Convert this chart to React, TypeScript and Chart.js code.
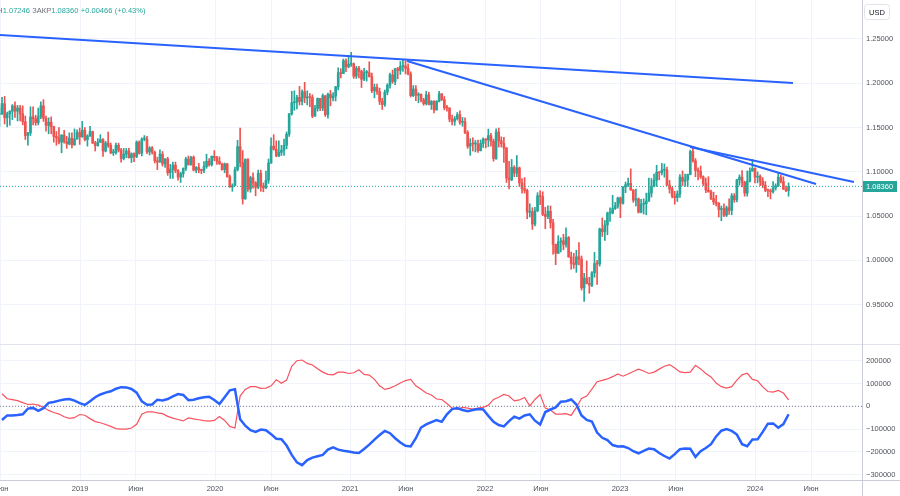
import React, { useEffect, useRef } from "react";
import { Chart, registerables } from "chart.js";

Chart.register(...registerables);

const FONT_FAMILY = "'Liberation Sans', Arial, sans-serif";
const UP = "#26a69a";
const DOWN = "#ef5350";
const BLUE = "#2962ff";
const RED_LINE = "#f7525f";
const GRID = "#f0f3fa";
const TEXT = "#50535e";
const AXIS_FONT = 7.5;

// Weekly EUR/USD candles: first week and its open, then [high, low, close] per week
const FIRST_WEEK = "2018-05-28";
const FIRST_OPEN = 1.165;

const w2018 = [
  [1.1720, 1.1510, 1.1660], [1.1840, 1.1645, 1.1770], [1.1852, 1.1541, 1.1610], [1.1675, 1.1508, 1.1655],
  [1.1690, 1.1526, 1.1685], [1.1760, 1.1590, 1.1745], [1.1790, 1.1615, 1.1685], [1.1750, 1.1575, 1.1720],
  [1.1750, 1.1575, 1.1655], [1.1745, 1.1530, 1.1565], [1.1630, 1.1365, 1.1410], [1.1445, 1.1300, 1.1440],
  [1.1735, 1.1410, 1.1620], [1.1735, 1.1530, 1.1600], [1.1640, 1.1525, 1.1555], [1.1720, 1.1530, 1.1625],
  [1.1790, 1.1600, 1.1745], [1.1815, 1.1570, 1.1605], [1.1630, 1.1460, 1.1525], [1.1610, 1.1430, 1.1560],
  [1.1620, 1.1430, 1.1510], [1.1515, 1.1335, 1.1400], [1.1455, 1.1300, 1.1385], [1.1500, 1.1315, 1.1335],
  [1.1420, 1.1215, 1.1415], [1.1470, 1.1325, 1.1340], [1.1400, 1.1265, 1.1315], [1.1440, 1.1305, 1.1380],
  [1.1440, 1.1270, 1.1305], [1.1485, 1.1300, 1.1370], [1.1475, 1.1370, 1.1445], [1.1495, 1.1310, 1.1395],
];
const w2019 = [
  [1.1570, 1.1390, 1.1470], [1.1500, 1.1350, 1.1365], [1.1420, 1.1290, 1.1405], [1.1515, 1.1400, 1.1455],
  [1.1460, 1.1320, 1.1325], [1.1345, 1.1235, 1.1295], [1.1375, 1.1290, 1.1335], [1.1420, 1.1330, 1.1365],
  [1.1375, 1.1175, 1.1235], [1.1345, 1.1225, 1.1325], [1.1450, 1.1275, 1.1300], [1.1325, 1.1205, 1.1215],
  [1.1255, 1.1185, 1.1215], [1.1325, 1.1200, 1.1300], [1.1325, 1.1225, 1.1245], [1.1265, 1.1110, 1.1150],
  [1.1265, 1.1135, 1.1200], [1.1265, 1.1160, 1.1235], [1.1265, 1.1155, 1.1160], [1.1215, 1.1105, 1.1205],
  [1.1215, 1.1115, 1.1170], [1.1350, 1.1160, 1.1335], [1.1350, 1.1200, 1.1210], [1.1385, 1.1180, 1.1370],
  [1.1410, 1.1350, 1.1370], [1.1400, 1.1205, 1.1225], [1.1285, 1.1190, 1.1270], [1.1285, 1.1200, 1.1220],
  [1.1235, 1.1100, 1.1125], [1.1165, 1.1025, 1.1110], [1.1250, 1.1110, 1.1200], [1.1230, 1.1065, 1.1090],
  [1.1150, 1.1050, 1.1145], [1.1165, 1.0960, 1.0990], [1.1085, 1.0925, 1.1030], [1.1110, 1.0925, 1.1075],
  [1.1110, 1.0990, 1.1015], [1.1025, 1.0905, 1.0940], [1.0995, 1.0880, 1.0980], [1.1045, 1.0940, 1.1040],
  [1.1165, 1.1015, 1.1145], [1.1180, 1.1075, 1.1080], [1.1175, 1.1075, 1.1165], [1.1180, 1.1010, 1.1020],
  [1.1060, 1.0990, 1.1050], [1.1095, 1.0990, 1.1020], [1.1030, 1.0980, 1.1015], [1.1115, 1.0990, 1.1060],
  [1.1200, 1.1040, 1.1120], [1.1150, 1.1065, 1.1080], [1.1180, 1.1065, 1.1175], [1.1240, 1.1125, 1.1160],
];
const w2020 = [
  [1.1175, 1.1085, 1.1120], [1.1170, 1.1085, 1.1090], [1.1100, 1.1020, 1.1025], [1.1100, 1.0990, 1.1090],
  [1.1095, 1.0940, 1.0945], [1.0965, 1.0825, 1.0830], [1.0865, 1.0780, 1.0845], [1.1055, 1.0845, 1.1025],
  [1.1355, 1.1010, 1.1285], [1.1495, 1.1055, 1.1105], [1.1240, 1.0636, 1.0695], [1.1147, 1.0690, 1.1140],
  [1.1150, 1.0780, 1.0805], [1.0950, 1.0770, 1.0935], [1.0990, 1.0815, 1.0875], [1.0890, 1.0730, 1.0825],
  [1.1020, 1.0810, 1.0985], [1.1020, 1.0780, 1.0840], [1.0875, 1.0775, 1.0820], [1.1010, 1.0810, 1.0905],
  [1.1145, 1.0870, 1.1100], [1.1385, 1.1095, 1.1290], [1.1420, 1.1245, 1.1255], [1.1350, 1.1170, 1.1180],
  [1.1350, 1.1170, 1.1220], [1.1300, 1.1185, 1.1245], [1.1370, 1.1185, 1.1300], [1.1450, 1.1260, 1.1425],
  [1.1660, 1.1400, 1.1655], [1.1910, 1.1640, 1.1780], [1.1915, 1.1695, 1.1785], [1.1865, 1.1710, 1.1840],
  [1.1965, 1.1755, 1.1795], [1.1925, 1.1755, 1.1905], [1.2011, 1.1780, 1.1835], [1.1915, 1.1755, 1.1845],
  [1.1885, 1.1735, 1.1840], [1.1870, 1.1612, 1.1630], [1.1750, 1.1625, 1.1715], [1.1835, 1.1685, 1.1830],
  [1.1830, 1.1690, 1.1720], [1.1880, 1.1690, 1.1860], [1.1860, 1.1625, 1.1645], [1.1890, 1.1605, 1.1875],
  [1.1920, 1.1745, 1.1835], [1.1895, 1.1800, 1.1855], [1.1965, 1.1800, 1.1960], [1.2175, 1.1925, 1.2120],
  [1.2165, 1.2060, 1.2110], [1.2275, 1.2110, 1.2255], [1.2275, 1.2130, 1.2185], [1.2310, 1.2175, 1.2215],
];
const w2021 = [
  [1.2349, 1.2190, 1.2220], [1.2230, 1.2055, 1.2080], [1.2190, 1.2055, 1.2170], [1.2190, 1.2060, 1.2135],
  [1.2150, 1.1952, 1.2045], [1.2170, 1.2030, 1.2120], [1.2145, 1.2025, 1.2120], [1.2243, 1.2070, 1.2075],
  [1.2115, 1.1895, 1.1915], [1.1990, 1.1835, 1.1955], [1.1990, 1.1875, 1.1905], [1.1945, 1.1760, 1.1795],
  [1.1830, 1.1704, 1.1760], [1.1925, 1.1740, 1.1900], [1.1995, 1.1870, 1.1980], [1.2115, 1.1945, 1.2095],
  [1.2150, 1.2000, 1.2020], [1.2170, 1.1985, 1.2165], [1.2180, 1.2050, 1.2145], [1.2245, 1.2100, 1.2190],
  [1.2265, 1.2135, 1.2195], [1.2255, 1.2105, 1.2170], [1.2220, 1.2095, 1.2105], [1.2130, 1.1845, 1.1860],
  [1.1975, 1.1850, 1.1935], [1.1975, 1.1805, 1.1865], [1.1895, 1.1780, 1.1875], [1.1880, 1.1790, 1.1810],
  [1.1830, 1.1752, 1.1770], [1.1910, 1.1755, 1.1870], [1.1900, 1.1755, 1.1760], [1.1805, 1.1705, 1.1795],
  [1.1805, 1.1664, 1.1700], [1.1805, 1.1695, 1.1795], [1.1910, 1.1790, 1.1880], [1.1885, 1.1805, 1.1815],
  [1.1850, 1.1700, 1.1725], [1.1750, 1.1685, 1.1720], [1.1725, 1.1565, 1.1595], [1.1640, 1.1530, 1.1570],
  [1.1625, 1.1525, 1.1600], [1.1670, 1.1585, 1.1645], [1.1690, 1.1535, 1.1560], [1.1615, 1.1515, 1.1565],
  [1.1610, 1.1430, 1.1445], [1.1465, 1.1265, 1.1290], [1.1375, 1.1186, 1.1320], [1.1385, 1.1235, 1.1315],
  [1.1355, 1.1225, 1.1315], [1.1360, 1.1220, 1.1240], [1.1360, 1.1235, 1.1320], [1.1385, 1.1275, 1.1370],
];
const w2022 = [
  [1.1375, 1.1270, 1.1360], [1.1483, 1.1285, 1.1410], [1.1435, 1.1290, 1.1345], [1.1370, 1.1121, 1.1150],
  [1.1485, 1.1140, 1.1450], [1.1495, 1.1280, 1.1350], [1.1395, 1.1280, 1.1320], [1.1390, 1.1106, 1.1270],
  [1.1275, 1.0880, 1.0930], [1.1120, 1.0806, 1.0910], [1.1140, 1.0900, 1.1050], [1.1070, 1.0945, 1.0985],
  [1.1185, 1.0945, 1.1045], [1.1055, 1.0835, 1.0875], [1.0925, 1.0760, 1.0810], [1.0935, 1.0760, 1.0790],
  [1.0805, 1.0470, 1.0545], [1.0640, 1.0490, 1.0550], [1.0595, 1.0350, 1.0410], [1.0600, 1.0390, 1.0560],
  [1.0765, 1.0550, 1.0730], [1.0785, 1.0630, 1.0720], [1.0775, 1.0505, 1.0520], [1.0600, 1.0358, 1.0495],
  [1.0615, 1.0470, 1.0555], [1.0615, 1.0365, 1.0425], [1.0465, 1.0070, 1.0180], [1.0185, 0.9952, 1.0080],
  [1.0280, 1.0080, 1.0210], [1.0255, 1.0095, 1.0220], [1.0295, 1.0120, 1.0180], [1.0368, 1.0150, 1.0260],
  [1.0270, 1.0035, 1.0040], [1.0095, 0.9900, 0.9965], [1.0080, 0.9910, 0.9955], [1.0115, 0.9865, 1.0040],
  [1.0200, 0.9950, 1.0015], [1.0050, 0.9665, 0.9690], [0.9855, 0.9536, 0.9800], [0.9995, 0.9735, 0.9740],
  [0.9810, 0.9630, 0.9720], [0.9875, 0.9705, 0.9860], [1.0090, 0.9810, 0.9965], [1.0000, 0.9730, 0.9960],
  [1.0365, 0.9935, 1.0355], [1.0480, 1.0270, 1.0325], [1.0450, 1.0225, 1.0400], [1.0545, 1.0290, 1.0535],
  [1.0595, 1.0440, 1.0535], [1.0735, 1.0525, 1.0585], [1.0655, 1.0575, 1.0615], [1.0715, 1.0590, 1.0705],
];
const w2023 = [
  [1.0715, 1.0483, 1.0645], [1.0835, 1.0635, 1.0830], [1.0885, 1.0765, 1.0855], [1.0930, 1.0835, 1.0870],
  [1.1033, 1.0790, 1.0795], [1.0800, 1.0655, 1.0680], [1.0805, 1.0615, 1.0695], [1.0705, 1.0535, 1.0545],
  [1.0690, 1.0535, 1.0635], [1.0695, 1.0524, 1.0640], [1.0760, 1.0515, 1.0670], [1.0930, 1.0665, 1.0760],
  [1.0925, 1.0715, 1.0840], [1.0975, 1.0830, 1.0905], [1.1075, 1.0835, 1.0995], [1.1000, 1.0910, 1.0990],
  [1.1095, 1.0965, 1.1020], [1.1090, 1.0940, 1.1020], [1.1055, 1.0845, 1.0850], [1.0905, 1.0760, 1.0805],
  [1.0830, 1.0705, 1.0725], [1.0780, 1.0635, 1.0710], [1.0785, 1.0665, 1.0750], [1.0970, 1.0710, 1.0940],
  [1.1010, 1.0845, 1.0895], [1.0975, 1.0835, 1.0910], [1.0975, 1.0835, 1.0970], [1.1245, 1.0965, 1.1230],
  [1.1275, 1.1110, 1.1125], [1.1150, 1.0945, 1.1015], [1.1045, 1.0910, 1.1005], [1.1065, 1.0925, 1.0945],
  [1.0955, 1.0845, 1.0870], [1.0930, 1.0765, 1.0795], [1.0945, 1.0770, 1.0775], [1.0795, 1.0685, 1.0700],
  [1.0770, 1.0630, 1.0660], [1.0735, 1.0615, 1.0645], [1.0655, 1.0490, 1.0575], [1.0615, 1.0448, 1.0585],
  [1.0640, 1.0495, 1.0510], [1.0615, 1.0495, 1.0595], [1.0695, 1.0520, 1.0565], [1.0755, 1.0515, 1.0730],
  [1.0755, 1.0655, 1.0685], [1.0915, 1.0660, 1.0910], [1.0965, 1.0850, 1.0940], [1.1015, 1.0830, 1.0880],
  [1.0895, 1.0725, 1.0760], [1.1010, 1.0725, 1.0895], [1.1045, 1.0885, 1.1010], [1.1139, 1.1005, 1.1040],
];
const w2024 = [
  [1.1045, 1.0875, 1.0940], [1.1000, 1.0875, 1.0950], [1.0965, 1.0845, 1.0895], [1.0935, 1.0820, 1.0850],
  [1.0890, 1.0775, 1.0790], [1.0805, 1.0720, 1.0785], [1.0805, 1.0695, 1.0775], [1.0890, 1.0760, 1.0820],
  [1.0865, 1.0795, 1.0840], [1.0980, 1.0835, 1.0940], [1.0965, 1.0875, 1.0890], [1.0945, 1.0800, 1.0805],
  [1.0840, 1.0775, 1.07894], [1.0876, 1.07246, 1.0836],
];

// COT net positions (thousands of contracts), one value every 2 weeks, starting at week index 1
const COT_STEP = 2;
const COT_START = 1;
const cotBlue = [
  -60, -40, -40, -38, -35, -10, -7, -20, -8, 15,
  19, 25, 30, 32, 25, 14, 6, 22, 40, 52,
  60, 66, 77, 84, 83, 76, 60, 22, 7, 8,
  29, 26, 32, 44, 54, 50, 27, 29, 35, 40,
  42, 28, 10, 40, 70, 75, -57, -85, -105, -112,
  -102, -105, -122, -142, -144, -172, -213, -246, -258, -236,
  -225, -219, -213, -190, -180, -190, -195, -198, -203, -205,
  -187, -168, -146, -126, -108, -118, -140, -159, -173, -176,
  -140, -93, -79, -69, -60, -68, -35, -12, -8, -16,
  -21, -16, -12, -14, -42, -68, -82, -88, -65, -45,
  -54, -40, -35, -63, -80, -25, -14, -5, 20, 22,
  30, 8, -40, -60, -67, -115, -138, -148, -170, -176,
  -175, -183, -197, -206, -195, -185, -188, -205, -218, -229,
  -210, -188, -185, -186, -222, -197, -183, -166, -132, -107,
  -100, -108, -124, -166, -175, -146, -145, -112, -76, -75,
  -94, -78, -35,
];
const cotRed = [
  55, 33, 29, 25, 16, 8, 10, 5, -4, -18,
  -27, -34, -46, -53, -50, -36, -39, -54, -67, -72,
  -80, -88, -98, -100, -100, -95, -79, -35, -24, -24,
  -29, -32, -44, -52, -58, -64, -51, -55, -59, -63,
  -65, -62, -45, -62, -88, -95, 45, 74, 86, 86,
  79, 80, 90, 116, 101, 115, 175, 200, 203, 188,
  181, 165, 150, 140, 138, 150, 150, 144, 147, 160,
  140, 137, 118, 90, 74, 80, 90, 102, 113, 118,
  90, 75, 58, 50, 32, 30, 12, -8, -13, -5,
  -8, -12, -8, -5, 5, 30, 40, 52, 45, 24,
  28, 39, 2, 30, 52, -8, -16, -34, -34, -32,
  -40, -5, 34, 45, 75, 108, 114, 120, 130, 142,
  132, 142, 153, 163, 155, 144, 150, 163, 176, 183,
  168, 151, 148, 150, 180, 164, 144, 129, 102, 86,
  80, 86, 115, 138, 145, 118, 112, 85, 65, 62,
  70, 58, 28,
];

// Trend lines: [startYear, startPrice, endYear, endPrice]
const trendLines = [
  [2018.407, 1.2545, 2024.281, 1.2003],
  [2021.422, 1.2251, 2024.452, 1.0863],
  [2023.519, 1.1281, 2024.733, 1.0885],
];

// Axes
const X_MIN = 2018.407;
const X_MAX = 2024.7926;
const xTickDates = [
  "2018-06-01", "2019-01-01", "2019-06-01", "2020-01-01", "2020-06-01", "2021-01-01", "2021-06-01",
  "2022-01-01", "2022-06-01", "2023-01-01", "2023-06-01", "2024-01-01", "2024-06-01",
];
const xTickLabels = ["Июн", "2019", "Июн", "2020", "Июн", "2021", "Июн", "2022", "Июн", "2023", "Июн", "2024", "Июн"];
const PRICE_MIN = 0.90563;
const PRICE_MAX = 1.29403;
const priceTicks = [0.95, 1.0, 1.05, 1.1, 1.15, 1.2, 1.25];
const COT_MIN = -323.2;
const COT_MAX = 268.9;
const cotTicks = [-300, -200, -100, 0, 100, 200];
const PRICE_LABEL_CURRENCY = "USD";

function utc(s: string): number {
  const [y, m, d] = s.split("-").map(Number);
  return Date.UTC(y, m - 1, d);
}
function decYear(ms: number): number {
  const y = new Date(ms).getUTCFullYear();
  const a = Date.UTC(y, 0, 1);
  const b = Date.UTC(y + 1, 0, 1);
  return y + (ms - a) / (b - a);
}
const WEEK_MS = 7 * 86400000;
const weekX = (i: number) => decYear(utc(FIRST_WEEK) + i * WEEK_MS);

const weeks = [...w2018, ...w2019, ...w2020, ...w2021, ...w2022, ...w2023, ...w2024];
const candles = weeks.map(([h, l, c], i) => {
  const o = i === 0 ? FIRST_OPEN : weeks[i - 1][2];
  return { x: weekX(i), o, h, l, c };
});
const last = candles[candles.length - 1];
const prevClose = candles[candles.length - 2].c;
const xTicks = xTickDates.map((d) => decYear(utc(d)));

const fontOf = (size: number) => `${size}px ${FONT_FAMILY}`;

function fixWidth(w: number) {
  return (s: any) => {
    s.width = w;
    s.paddingTop = 0;
    s.paddingBottom = 0;
  };
}
function fixHeight(h: number) {
  return (s: any) => {
    s.height = h;
    s.paddingLeft = 0;
    s.paddingRight = 0;
  };
}

export default function App() {
  const topRef = useRef<HTMLCanvasElement | null>(null);
  const botRef = useRef<HTMLCanvasElement | null>(null);

  useEffect(() => {
    const colors = candles.map((k) => (k.c >= k.o ? UP : DOWN));

    const topOverlay = {
      id: "topOverlay",
      afterDraw(chart: any) {
        const ctx = chart.ctx as CanvasRenderingContext2D;
        ctx.save();
        ctx.strokeStyle = "#c9ccd4";
        ctx.lineWidth = 1;
        ctx.beginPath();
        ctx.moveTo(862.5, 0);
        ctx.lineTo(862.5, chart.height);
        ctx.stroke();

        // current price label
        const yp = Math.round(chart.scales.y.getPixelForValue(last.c));
        ctx.fillStyle = UP;
        ctx.fillRect(863, yp - 5, 34, 11);
        ctx.fillStyle = "#ffffff";
        ctx.font = fontOf(AXIS_FONT);
        ctx.textBaseline = "middle";
        ctx.textAlign = "left";
        ctx.fillText(last.c.toFixed(5), 866, yp + 0.5);

        // currency box
        ctx.strokeStyle = "#e0e3eb";
        ctx.beginPath();
        (ctx as any).roundRect(864.5, 4.5, 25, 15, 3);
        ctx.stroke();
        ctx.fillStyle = "#131722";
        ctx.textAlign = "center";
        ctx.fillText(PRICE_LABEL_CURRENCY, 877, 12.5);

        // legend header
        const diff = last.c - prevClose;
        const pct = (diff / prevClose) * 100;
        ctx.font = fontOf(7.5);
        ctx.textAlign = "right";
        ctx.fillStyle = "#6a6d78";
        ctx.fillText("МИН", 2.5, 11);
        ctx.textAlign = "left";
        let x = 2.7;
        const parts: [string, string][] = [
          ["", last.l.toFixed(5)],
          ["ЗАКР", last.c.toFixed(5)],
          ["", (diff >= 0 ? "+" : "") + diff.toFixed(5)],
          ["", `(${pct >= 0 ? "+" : ""}${pct.toFixed(2)}%)`],
        ];
        parts.forEach(([lab, val]) => {
          if (lab) {
            ctx.fillStyle = "#6a6d78";
            ctx.fillText(lab, x, 11);
            x += ctx.measureText(lab).width;
          }
          ctx.fillStyle = UP;
          ctx.fillText(val, x, 11);
          x += ctx.measureText(val).width + 2.5;
        });
        ctx.restore();
      },
    };

    const top = new Chart(topRef.current as HTMLCanvasElement, {
      type: "bar",
      data: {
        datasets: [
          ...trendLines.map((t) => ({
            type: "line" as const,
            data: [
              { x: t[0], y: t[1] },
              { x: t[2], y: t[3] },
            ],
            borderColor: BLUE,
            borderWidth: 2,
            pointRadius: 0,
            order: 0,
          })),
          {
            type: "line" as const,
            data: [
              { x: X_MIN, y: last.c },
              { x: X_MAX, y: last.c },
            ],
            borderColor: UP,
            borderWidth: 1,
            borderDash: [1, 2],
            pointRadius: 0,
            order: 1,
          },
          {
            type: "bar" as const,
            data: candles.map((k) => ({ x: k.x, y: [k.l, k.h] })) as any,
            backgroundColor: colors,
            barThickness: 1,
            grouped: false,
            order: 3,
          },
          {
            type: "bar" as const,
            data: candles.map((k) => ({ x: k.x, y: [Math.min(k.o, k.c), Math.max(k.o, k.c)] })) as any,
            backgroundColor: colors,
            barThickness: 2,
            minBarLength: 1,
            grouped: false,
            order: 2,
          },
        ] as any,
      },
      options: {
        animation: false,
        responsive: false,
        maintainAspectRatio: false,
        devicePixelRatio: 1,
        events: [],
        layout: { padding: 0 },
        plugins: { legend: { display: false }, tooltip: { enabled: false } },
        scales: {
          x: {
            type: "linear",
            min: X_MIN,
            max: X_MAX,
            offset: false,
            grid: { color: GRID, drawTicks: false, offset: false },
            border: { display: false },
            ticks: { display: false },
            afterBuildTicks: (s: any) => {
              s.ticks = xTicks.map((v) => ({ value: v }));
            },
            afterFit: fixHeight(0),
          },
          y: {
            type: "linear",
            position: "right",
            min: PRICE_MIN,
            max: PRICE_MAX,
            grid: { color: GRID, drawTicks: false },
            border: { display: false },
            ticks: {
              padding: 4,
              color: TEXT,
              font: { family: FONT_FAMILY, size: AXIS_FONT },
              callback: (v: any) => Number(v).toFixed(5),
            },
            afterBuildTicks: (s: any) => {
              s.ticks = priceTicks.map((v) => ({ value: v }));
            },
            afterFit: fixWidth(38),
          },
        },
      } as any,
      plugins: [topOverlay],
    });

    const botOverlay = {
      id: "botOverlay",
      afterDraw(chart: any) {
        const ctx = chart.ctx as CanvasRenderingContext2D;
        const area = chart.chartArea;
        ctx.save();
        ctx.lineWidth = 1;
        ctx.strokeStyle = "#e0e3eb";
        ctx.beginPath();
        ctx.moveTo(0, 0.5);
        ctx.lineTo(chart.width, 0.5);
        ctx.stroke();
        ctx.strokeStyle = "#c9ccd4";
        ctx.beginPath();
        ctx.moveTo(0, Math.round(area.bottom) + 0.5);
        ctx.lineTo(chart.width, Math.round(area.bottom) + 0.5);
        ctx.stroke();
        ctx.beginPath();
        ctx.moveTo(862.5, 0);
        ctx.lineTo(862.5, chart.height);
        ctx.stroke();
        ctx.restore();
      },
    };

    const cotPoints = (arr: number[]) => arr.map((v, j) => ({ x: weekX(COT_START + j * COT_STEP), y: v }));

    const bot = new Chart(botRef.current as HTMLCanvasElement, {
      type: "line",
      data: {
        datasets: [
          {
            data: cotPoints(cotBlue),
            borderColor: BLUE,
            borderWidth: 2.5,
            pointRadius: 0,
            order: 0,
          },
          {
            data: cotPoints(cotRed),
            borderColor: RED_LINE,
            borderWidth: 1.2,
            pointRadius: 0,
            order: 1,
          },
          {
            data: [
              { x: X_MIN, y: 0 },
              { x: X_MAX, y: 0 },
            ],
            borderColor: "#787b86",
            borderWidth: 1,
            borderDash: [1, 2],
            pointRadius: 0,
            order: 2,
          },
        ],
      },
      options: {
        animation: false,
        responsive: false,
        maintainAspectRatio: false,
        devicePixelRatio: 1,
        events: [],
        layout: { padding: { top: 1, left: 0, right: 0, bottom: 0 } },
        plugins: { legend: { display: false }, tooltip: { enabled: false } },
        scales: {
          x: {
            type: "linear",
            min: X_MIN,
            max: X_MAX,
            offset: false,
            grid: { color: GRID, drawTicks: false, offset: false },
            border: { display: false },
            ticks: {
              padding: 4,
              autoSkip: false,
              maxRotation: 0,
              minRotation: 0,
              color: TEXT,
              font: { family: FONT_FAMILY, size: AXIS_FONT },
              callback: (_v: any, i: number) => xTickLabels[i],
            },
            afterBuildTicks: (s: any) => {
              s.ticks = xTicks.map((v) => ({ value: v }));
            },
            afterFit: fixHeight(16),
          },
          y: {
            type: "linear",
            position: "right",
            min: COT_MIN,
            max: COT_MAX,
            grid: { color: GRID, drawTicks: false },
            border: { display: false },
            ticks: {
              padding: 4,
              color: TEXT,
              font: { family: FONT_FAMILY, size: AXIS_FONT },
              callback: (v: any) => {
                const n = Number(v) * 1000;
                return n < 0 ? "\u2212" + Math.abs(n) : String(n);
              },
            },
            afterBuildTicks: (s: any) => {
              s.ticks = cotTicks.map((v) => ({ value: v }));
            },
            afterFit: fixWidth(38),
          },
        },
      } as any,
      plugins: [botOverlay],
    });

    return () => {
      top.destroy();
      bot.destroy();
    };
  }, []);

  return (
    <div style={{ position: "absolute", left: 0, top: 0, width: 900, height: 496, background: "#ffffff" }}>
      <canvas ref={topRef} width={900} height={344} style={{ position: "absolute", left: 0, top: 0, width: 900, height: 344 }} />
      <canvas ref={botRef} width={900} height={152} style={{ position: "absolute", left: 0, top: 344, width: 900, height: 152 }} />
    </div>
  );
}
